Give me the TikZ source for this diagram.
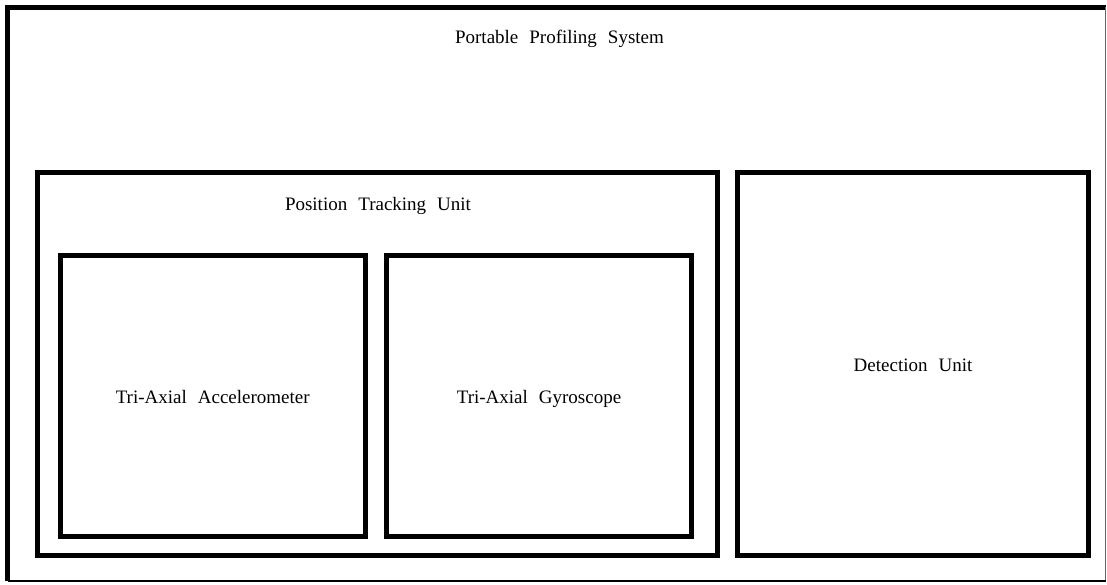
\documentclass[tikz,border=0pt]{standalone}
\usepackage{fontspec}
\setmainfont{Liberation Serif}
\usetikzlibrary{calc}
% wide word gap used in all captions
\newcommand\wsp{\hspace{11pt}}
\begin{document}
\begin{tikzpicture}[x=1pt,y=-1pt,
  heavy/.style={line width=5pt,line join=miter,draw=black},
  unitbox/.style={rectangle,heavy,inner sep=0pt,outer sep=0pt,anchor=center},
  captxt/.style={font=\fontsize{19}{22}\selectfont,
                text height=15pt,text depth=0pt,inner sep=0pt},
  headtxt/.style={font=\fontsize{19}{22}\selectfont,
                inner sep=0pt,anchor=base}]
  % canvas
  \fill[white] (0,0) rectangle (1107,585);
  \useasboundingbox (0,0) rectangle (1107,585);

  % outer system frame: heavy left and top edges, light right and bottom edges
  \node[rectangle,inner sep=0pt,outer sep=0pt,minimum width=1098pt,minimum height=573.5pt]
    (sys) at (556.5,294.25) {};
  \draw[heavy] (sys.south west) -- (sys.north west) -- (sys.north east);
  \draw[line width=1.2pt,draw=black!60] (sys.north east) -- (sys.south east);
  \draw[line width=1.8pt,draw=black] (sys.south east) -- (sys.south west);
  \node[headtxt] (systitle) at ($(sys.north)+(3,36)$) {Portable\wsp Profiling\wsp System};

  % position tracking unit with its two sensors
  \node[unitbox,minimum width=680pt,minimum height=382.5pt] (ptu) at (377.5,364.25) {};
  \node[headtxt] (ptutitle) at ($(ptu.north)+(0.5,38)$) {Position\wsp Tracking\wsp Unit};
  \node[unitbox,captxt,minimum width=305.5pt,minimum height=281.5pt] (acc) at (212.75,395.75)
    {Tri-Axial\wsp Accelerometer};
  \node[unitbox,captxt,minimum width=305pt,minimum height=281.5pt] (gyro) at (539,395.75)
    {Tri-Axial\wsp Gyroscope};

  % detection unit
  \node[unitbox,captxt,minimum width=351pt,minimum height=382pt] (det) at (913,364)
    {Detection\wsp Unit};
\end{tikzpicture}
\end{document}
